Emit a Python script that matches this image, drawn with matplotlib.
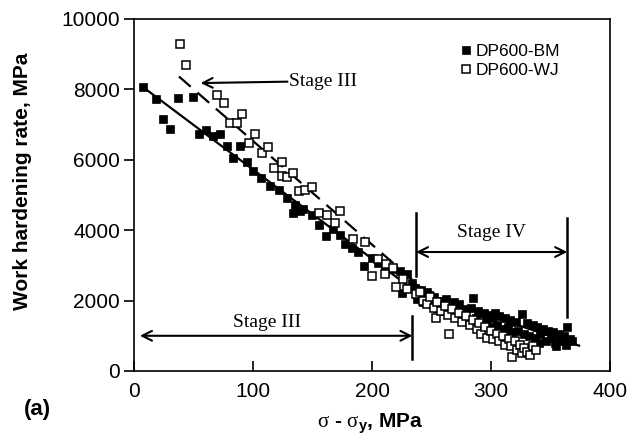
import numpy as np
import matplotlib.pyplot as plt

plt.rcParams['font.family'] = 'Liberation Sans'
plt.rcParams['mathtext.fontset'] = 'custom'
plt.rcParams['mathtext.rm'] = 'Liberation Serif'
plt.rcParams['mathtext.it'] = 'Liberation Serif:italic'
plt.rcParams['mathtext.bf'] = 'Liberation Sans:bold'

# DP600-BM (filled squares)
bm_x = [7.8, 18.2, 24.4, 30.3, 37, 49.3, 54.9, 60.5, 66.7, 72.3, 78.4, 89.1, 83.5, 94.7,
        99.7, 107, 114.3, 122.1, 128.8, 133.9, 135.5, 139.5, 142.3, 149.3, 155.7, 161.5,
        167.5, 173.1, 177.3, 183, 188.5, 193.5, 199.7, 205.3, 210.9, 217.9, 223.5, 225,
        229.2, 233.3,
        236, 238, 241, 243, 246, 248, 250, 252, 255, 257, 259, 262, 264, 266, 269, 271,
        273, 276, 278, 280, 283, 285, 287, 289, 292, 294, 296, 298, 300, 301, 303, 305,
        307, 310, 312, 314, 315, 316, 318, 321, 323, 326, 328, 330, 332, 335, 337, 339,
        340, 341, 344, 346, 348, 350, 352, 354, 355, 357, 359, 361, 363, 364, 366, 368]
bm_y = [8066, 7734, 7159, 6875, 7762, 7791, 6743, 6856, 6686, 6734, 6403, 6403, 6054, 5930,
        5675, 5486, 5250, 5156, 4920, 4496, 4703, 4542, 4609, 4420, 4150, 3833,
        4023, 3850, 3598, 3480, 3390, 2983, 3221, 3079, 2841, 2890, 2841, 2229,
        2748, 2512,
        2350, 2050, 2300, 1950, 2250, 2150, 1900, 2100, 1800, 2000, 1700, 2050, 1800, 1650, 1950, 1550,
        1900, 1650, 1750, 1450, 1800, 2080, 1500, 1700, 1350, 1650, 1450, 1600, 1250, 1500, 1650, 1300,
        1550, 1200, 1500, 1250, 1050, 1450, 1100, 1400, 1150, 1615, 1050, 1350, 1000, 1300, 950, 1250,
        800, 1050, 1200, 850, 1150, 950, 1100, 800, 700, 1050, 850, 1000, 750, 1255, 900, 850]

# DP600-WJ (open squares)
wj_x = [38.7, 43.7, 70, 75.6, 80.7, 86.5, 91, 96.9, 101.8, 107.2, 112.5, 117.6, 124.3, 124.6,
        128.3, 133.3, 138.9, 143.7, 149.3, 155.7, 162.6, 168.9, 173.1, 184.3, 194.5, 205,
        212, 218, 211, 229, 200, 220, 226, 237,
        240, 243, 246, 249, 252, 254, 255, 258, 261, 264, 265, 267, 270, 273, 276, 279, 282,
        285, 288, 290, 292, 295, 297, 300, 302, 305, 307, 310, 312, 315, 317, 318, 320, 322,
        324, 326, 328, 330, 333, 335, 338]
wj_y = [9281, 8697, 7836, 7611, 7045, 7040, 7309, 6478, 6743, 6185, 6350, 5755, 5930, 5553,
        5514, 5627, 5108, 5156, 5217, 4496, 4430, 4212, 4542, 3740, 3660, 3173,
        3031, 2937, 2748, 2323, 2700, 2400, 2600, 2200,
        2250, 2000, 1900, 2100, 1800, 1500, 1950, 1700, 1850, 1600, 1050, 1750, 1500, 1650, 1400, 1550, 1300,
        1450, 1200, 1350, 1050, 1250, 950, 1150, 900, 1050, 850, 1000, 750, 900, 700, 400, 850, 600,
        750, 500, 650, 550, 450, 700, 600]

# fitted lines
bm_fit_x = [7.6, 235, 374]
bm_fit_y = [8066, 2300, 720]
wj3_fit_x = [37.8, 235]
wj3_fit_y = [8366, 2560]
wj4_fit_x = [235, 330]
wj4_fit_y = [2500, 450]

fig = plt.figure(figsize=(6.42, 4.46), dpi=100)
ax = fig.add_axes([0.2087, 0.1682, 0.7415, 0.7892])

ax.plot(bm_fit_x, bm_fit_y, color='black', lw=1.6, zorder=2)
ax.plot(wj3_fit_x, wj3_fit_y, color='black', lw=1.6, dashes=(7, 4), zorder=2)
ax.plot(wj4_fit_x, wj4_fit_y, color='black', lw=1.6, dashes=(7, 4), zorder=2)

ax.plot(bm_x, bm_y, 's', color='black', ms=6, mec='black', mew=0.5, ls='none',
        label='DP600-BM', zorder=3)
ax.plot(wj_x, wj_y, 's', mfc='white', mec='black', ms=6, mew=1.1, ls='none',
        label='DP600-WJ', zorder=4)

ax.set_xlim(0, 400)
ax.set_ylim(0, 10000)
ax.set_xticks([0, 100, 200, 300, 400])
ax.set_yticks([0, 2000, 4000, 6000, 8000, 10000])
ax.tick_params(axis='x', direction='in', length=7, width=1.2, labelsize=15, pad=8)
ax.tick_params(axis='y', direction='out', length=7, width=1.2, labelsize=15, pad=3)
for s in ax.spines.values():
    s.set_linewidth(1.2)

ax.set_ylabel('Work hardening rate, MPa', fontsize=15, fontweight='bold')
ax.yaxis.set_label_coords(-0.215, 0.54)
ax.set_xlabel(r'$\mathrm{\sigma}$ - $\mathrm{\sigma}_{\mathbf{y}}$, MPa', fontsize=15,
              fontweight='bold')
ax.xaxis.set_label_coords(0.496, -0.116)
fig.text(0.059, 0.081, '(a)', fontsize=16, fontweight='bold', ha='center', va='center')

leg = ax.legend(loc='upper left', bbox_to_anchor=(0.66, 0.965), frameon=False,
                fontsize=12.5, handlelength=0.6, handletextpad=0.3, labelspacing=0.25,
                borderpad=0.2)

serif = 'Liberation Serif'
arr = dict(arrowstyle='->,head_length=0.7,head_width=0.35', color='black', lw=1.5,
           shrinkA=0, shrinkB=0)
darr = dict(arrowstyle='<->,head_length=0.7,head_width=0.35', color='black', lw=1.5,
            shrinkA=0, shrinkB=0)

# upper Stage III
ax.annotate('', xy=(56, 8180), xytext=(129, 8220), arrowprops=arr)
ax.text(130, 8220, 'Stage III', family=serif, fontsize=14, ha='left', va='center')

# lower Stage III
ax.annotate('', xy=(5, 1000), xytext=(234, 1000), arrowprops=darr)
ax.plot([234, 234], [340, 1570], color='black', lw=1.8)
ax.text(112, 1390, 'Stage III', family=serif, fontsize=14, ha='center', va='center')

# Stage IV
ax.plot([237, 237], [2690, 4500], color='black', lw=1.8)
ax.plot([364, 364], [1530, 4360], color='black', lw=1.8)
ax.annotate('', xy=(237, 3380), xytext=(364, 3380), arrowprops=darr)
ax.text(300.5, 3940, 'Stage IV', family=serif, fontsize=14, ha='center', va='center')

fig.savefig('out.png', dpi=100)
